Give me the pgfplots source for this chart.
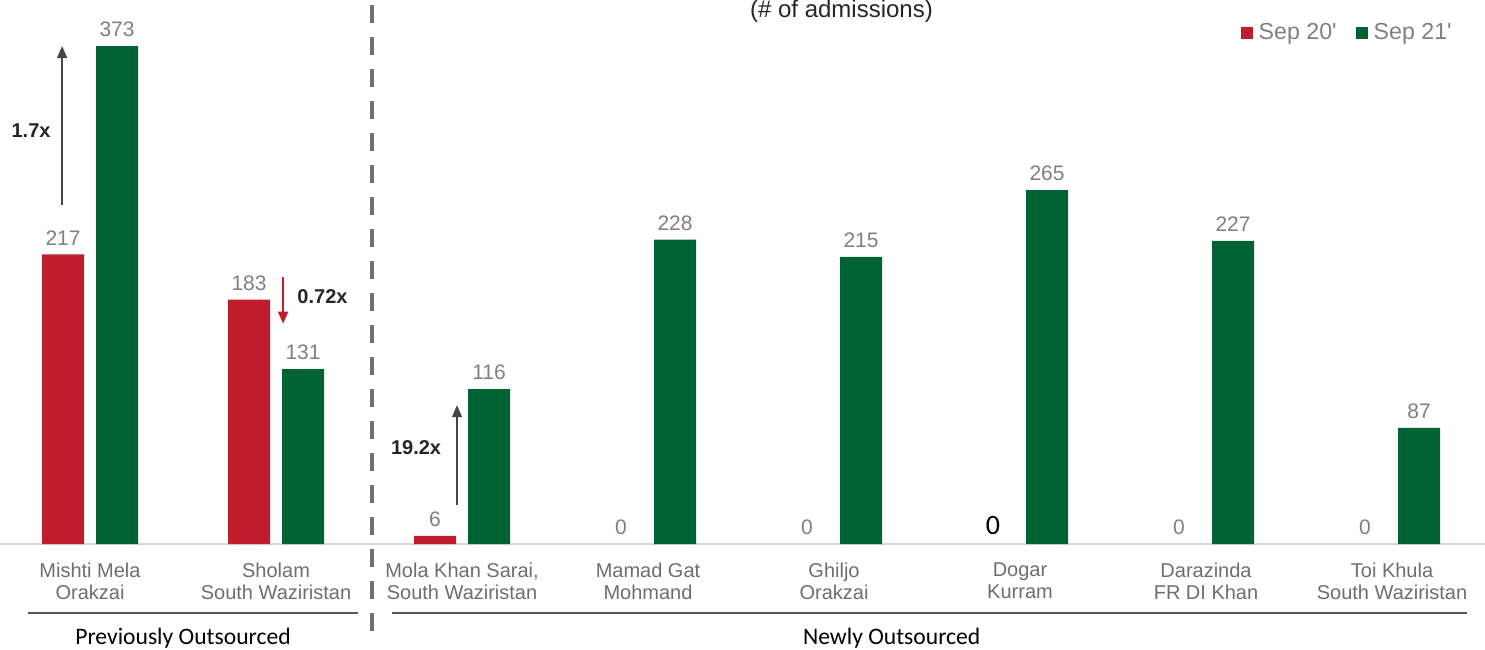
\documentclass[border=0pt]{standalone}
\usepackage{fontspec}
\setmainfont{Liberation Sans}
\newfontfamily\lsans{Liberation Sans}
\newfontfamily\carlito{Carlito}
\usepackage{pgfplots}
\pgfplotsset{compat=1.18}
\usetikzlibrary{arrows.meta}

\definecolor{barred}{RGB}{192,30,45}
\definecolor{bargreen}{RGB}{0,99,51}
\definecolor{vallabel}{RGB}{128,128,128}
\definecolor{catlabel}{RGB}{110,110,110}
\definecolor{arrowgray}{RGB}{70,70,70}
\definecolor{dashgray}{RGB}{112,112,112}

\begin{document}
\begin{tikzpicture}
\begin{axis}[
    width=742.5pt, height=272pt, scale only axis,
    xmin=-0.484, xmax=7.5, ymin=0, ymax=407.5,
    clip=false,
    axis x line*=bottom, axis y line=none,
    x axis line style={-, draw=black!15, line width=0.8pt},
    ybar, bar width=21pt,
    xtick={0,...,7}, major tick length=0pt, ytick=\empty,
    xticklabels={{Mishti Mela\\Orakzai},{Sholam\\South Waziristan},{Mola Khan Sarai,\\South Waziristan},{Mamad Gat\\Mohmand},{Ghiljo\\Orakzai},{Dogar\\Kurram},{Darazinda\\FR DI Khan},{Toi Khula\\South Waziristan}},
    xticklabel style={align=center, text=catlabel, font=\fontsize{10}{11}\selectfont, yshift=-6pt},
    nodes near coords, point meta=explicit symbolic,
    every node near coord/.append style={text=vallabel, font=\fontsize{10.5}{12}\selectfont, yshift=1pt},
    legend style={draw=none, fill=none, legend columns=-1, at={(rel axis cs:0.9805,0.94)}, anchor=east,
      font=\lsans\fontsize{11.6}{13}\selectfont, text=vallabel, inner sep=0pt,
      /tikz/every odd column/.append style={column sep=1pt},
      /tikz/every even column/.append style={column sep=7.5pt}},
  ]
  \addplot[fill=barred, draw=none, bar shift=-13.5pt,
    legend image code/.code={\fill[barred] (0pt,-3pt) rectangle (6pt,3pt);}]
    coordinates {(0,217)[217] (1,183)[183] (2,6)[6]};
  \addplot[fill=bargreen, draw=none, bar shift=13.5pt,
    legend image code/.code={\fill[bargreen] (0pt,-3pt) rectangle (6pt,3pt);}]
    coordinates {(0,373)[373] (1,131)[131] (2,116)[116] (3,228)[228] (4,215)[215] (5,265)[265] (6,227)[227] (7,87)[87]};
  \legend{Sep 20',Sep 21'}
  % Sep 20' zero values: labels only, no bar drawn
  \addplot[draw=none, fill=none, bar shift=-13.5pt, forget plot]
    coordinates {(3,0)[0] (4,0)[0] (5,0)[\textcolor{black}{\carlito\fontsize{14}{16}\selectfont 0}] (6,0)[0] (7,0)[0]};

  % title
  \node[text=black!85, font=\fontsize{12}{14}\selectfont] at (axis cs:4.04,399) {(\# of admissions)};

  % growth arrows
  \draw[arrowgray, line width=0.75pt, -{Triangle[length=6pt,width=5pt]}] (axis cs:-0.15,254) -- (axis cs:-0.15,373);
  \node[font=\bfseries\fontsize{10}{12}\selectfont, text=black!85] at (axis cs:-0.317,310) {1.7x};
  \draw[barred, line width=0.75pt, -{Triangle[length=6pt,width=5pt]}] (axis cs:1.038,200) -- (axis cs:1.038,165);
  \node[font=\bfseries\fontsize{10}{12}\selectfont, text=black!85] at (axis cs:1.25,185) {0.72x};
  \draw[arrowgray, line width=0.75pt, -{Triangle[length=6pt,width=5pt]}] (axis cs:1.973,29) -- (axis cs:1.973,104);
  \node[font=\bfseries\fontsize{10}{12}\selectfont, text=black!85] at (axis cs:1.753,72) {19.2x};

  % separator
  \draw[dashgray, line width=1.6pt, dash pattern=on 9pt off 7pt] (axis cs:1.516,403.7) -- ([yshift=-44pt]axis cs:1.516,0);

  % group brackets
  \draw[black!65, line width=0.75pt] ([yshift=-34.5pt]axis cs:-0.333,0) -- ([yshift=-34.5pt]axis cs:1.441,0);
  \draw[black!65, line width=0.75pt] ([yshift=-34.5pt]axis cs:1.624,0) -- ([yshift=-34.5pt]axis cs:7.403,0);
  \node[font=\carlito\fontsize{11.8}{13}\selectfont] at ([yshift=-47pt]axis cs:0.5,0) {Previously Outsourced};
  \node[font=\carlito\fontsize{11.8}{13}\selectfont] at ([yshift=-47pt]axis cs:4.31,0) {Newly Outsourced};

  \coordinate (bl) at (rel axis cs:0,0);
  \coordinate (tr) at (rel axis cs:1,1);
\end{axis}
\pgfresetboundingbox
\path (bl) ++(0,-52.5pt) rectangle (tr);
\end{tikzpicture}
\end{document}
